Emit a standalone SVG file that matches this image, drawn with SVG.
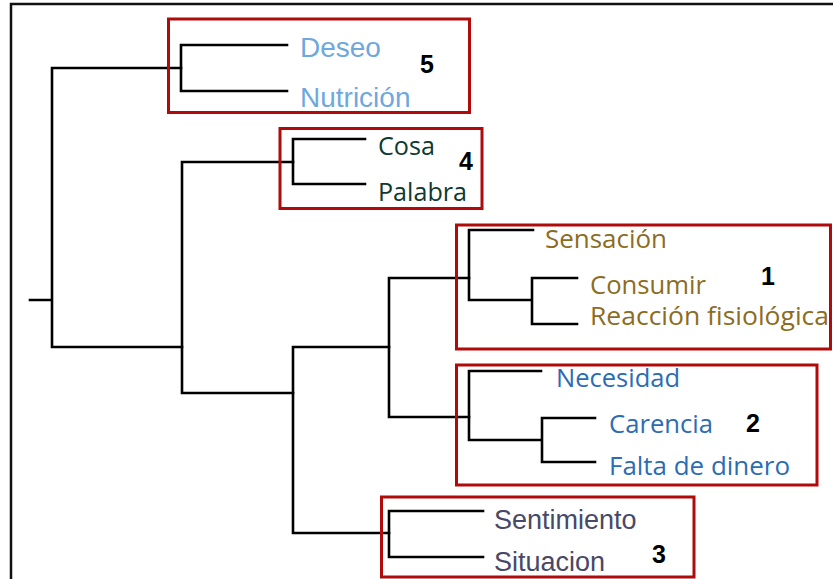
<svg xmlns="http://www.w3.org/2000/svg" width="833" height="579" viewBox="0 0 833 579">
<style>
.ln{fill:none;stroke:#000;stroke-width:2.6;stroke-linecap:square}
.box{fill:none;stroke:#b00a0a;stroke-width:3}
.frame{fill:none;stroke:#111;stroke-width:2.5}
.ui{font-family:"Open Sans","Noto Sans",sans-serif;font-size:25px}
.ar{font-family:"Liberation Sans",Arial,sans-serif}
.num{font-family:"Liberation Sans",Arial,sans-serif;font-weight:bold;font-size:25px;fill:#000}
.c5{fill:#6fa8dc}
.c4{fill:#0e3a2f}
.c1{fill:#8c6d1f}
.c2{fill:#2b6cb5}
.c3{fill:#484868}
</style>
<rect width="833" height="579" fill="#fff"/>
<path class="frame" d="M11,579 V4 H833"/>
<g id="connectors">
<path class="ln" d="M30,300 H52 M52,68 V347 M52,68 H181 M52,347 H182"/>
<path class="ln" d="M181,45 V91 M181,45 H287 M181,91 H287"/>
<path class="ln" d="M182,162 V393 M182,162 H293 M182,393 H293"/>
<path class="ln" d="M293,139 V184 M293,139 H365 M293,184 H365"/>
<path class="ln" d="M293,347 V533 M293,347 H389 M293,533 H389"/>
<path class="ln" d="M389,278 V417 M389,278 H469 M389,417 H469"/>
<path class="ln" d="M469,230 V300 M469,230 H533 M469,300 H532 M532,278 V324 M532,278 H577 M532,324 H577"/>
<path class="ln" d="M469,371 V440 M469,371 H541 M469,440 H542 M542,418 V462 M542,418 H595 M542,462 H595"/>
<path class="ln" d="M389,511 V557 M389,511 H483 M389,557 H483"/>
</g>
<g id="group5">
<rect class="box" x="168.5" y="19" width="301" height="93.5"/>
<text class="ar c5" x="300" y="57" font-size="28">Deseo</text>
<text class="ar c5" x="300" y="107" font-size="28">Nutrición</text>
<text class="num" x="420" y="73">5</text>
</g>
<g id="group4">
<rect class="box" x="280" y="128.5" width="202" height="80"/>
<text class="ui c4" x="378" y="155" textLength="57" lengthAdjust="spacingAndGlyphs">Cosa</text>
<text class="ui c4" x="378" y="201" textLength="89" lengthAdjust="spacingAndGlyphs">Palabra</text>
<text class="num" x="459" y="170">4</text>
</g>
<g id="group1">
<rect class="box" x="456.5" y="225" width="374" height="124"/>
<text class="ui c1" x="545" y="248" textLength="122" lengthAdjust="spacingAndGlyphs">Sensación</text>
<text class="ui c1" x="590" y="294" textLength="116" lengthAdjust="spacingAndGlyphs">Consumir</text>
<text class="ui c1" x="590" y="325" textLength="239" lengthAdjust="spacingAndGlyphs">Reacción fisiológica</text>
<text class="num" x="761" y="285">1</text>
</g>
<g id="group2">
<rect class="box" x="456.5" y="365" width="360.5" height="120"/>
<text class="ui c2" x="556" y="387" textLength="124" lengthAdjust="spacingAndGlyphs">Necesidad</text>
<text class="ui c2" x="609" y="433" textLength="104" lengthAdjust="spacingAndGlyphs">Carencia</text>
<text class="ui c2" x="609" y="475" textLength="181" lengthAdjust="spacingAndGlyphs">Falta de dinero</text>
<text class="num" x="746" y="432">2</text>
</g>
<g id="group3">
<rect class="box" x="381.5" y="497" width="312.5" height="80"/>
<text class="ar c3" x="494" y="529" font-size="27">Sentimiento</text>
<text class="ar c3" x="494" y="571" font-size="27">Situacion</text>
<text class="num" x="652" y="563">3</text>
</g>
</svg>
